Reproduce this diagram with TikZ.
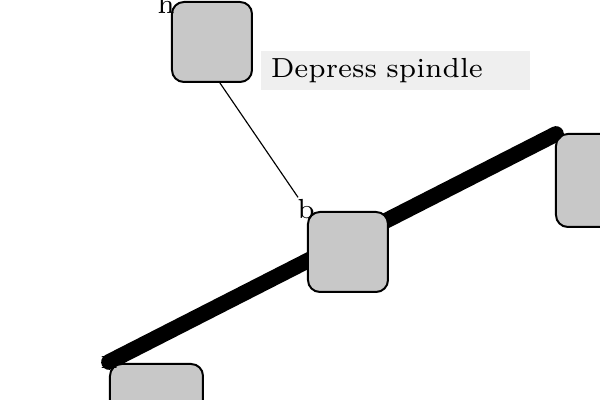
\documentclass[tikz,border=0pt]{standalone}
\pgfdeclarelayer{back}
\pgfdeclarelayer{front}
\pgfsetlayers{back,main,front}
\definecolor{boxgray}{HTML}{C8C8C8}
\definecolor{notegray}{HTML}{EFEFEF}
\begin{document}
\begin{tikzpicture}[x=0.261pt,y=-0.261pt,
  font=\fontsize{7.2}{8.6}\selectfont,
  box/.style={draw=black, line width=0.52pt, fill=boxgray, rounded corners=3.1pt,
    anchor=north west, inner sep=0pt, minimum width=#1*0.261pt, minimum height=#1*0.261pt},
  lbl/.style={inner sep=0.3pt},
  note/.style={fill=notegray, inner xsep=2.61pt, inner ysep=0pt, text width=65pt,
    align=left, minimum height=10.18pt, anchor=north west},
  thickline/.style={line width=4.1pt, line cap=round},
  thinline/.style={line width=0.3pt}]
\useasboundingbox (0,0) rectangle (600,400);
\begin{pgfonlayer}{front}
\node[lbl] (h) at (166,4) {h};
\node[lbl] (b) at (306,209) {b};
\node[lbl] (n) at (109,362) {n};
\node[lbl] (c) at (556,134) {c};
\end{pgfonlayer}
\node[box=80] (hbox) at (171,1) {};
\node[box=80] (bbox) at (307,211) {};
\node[box=93] (nbox) at (109,363) {};
\node[box=93] (cbox) at (555,133) {};
\node[note] (note) at (260,50) {Depress spindle};
\begin{pgfonlayer}{back}
\draw[thinline] (h) -- (b);
\draw[thickline] (n.center) -- (c.center);
\end{pgfonlayer}
\end{tikzpicture}
\end{document}
